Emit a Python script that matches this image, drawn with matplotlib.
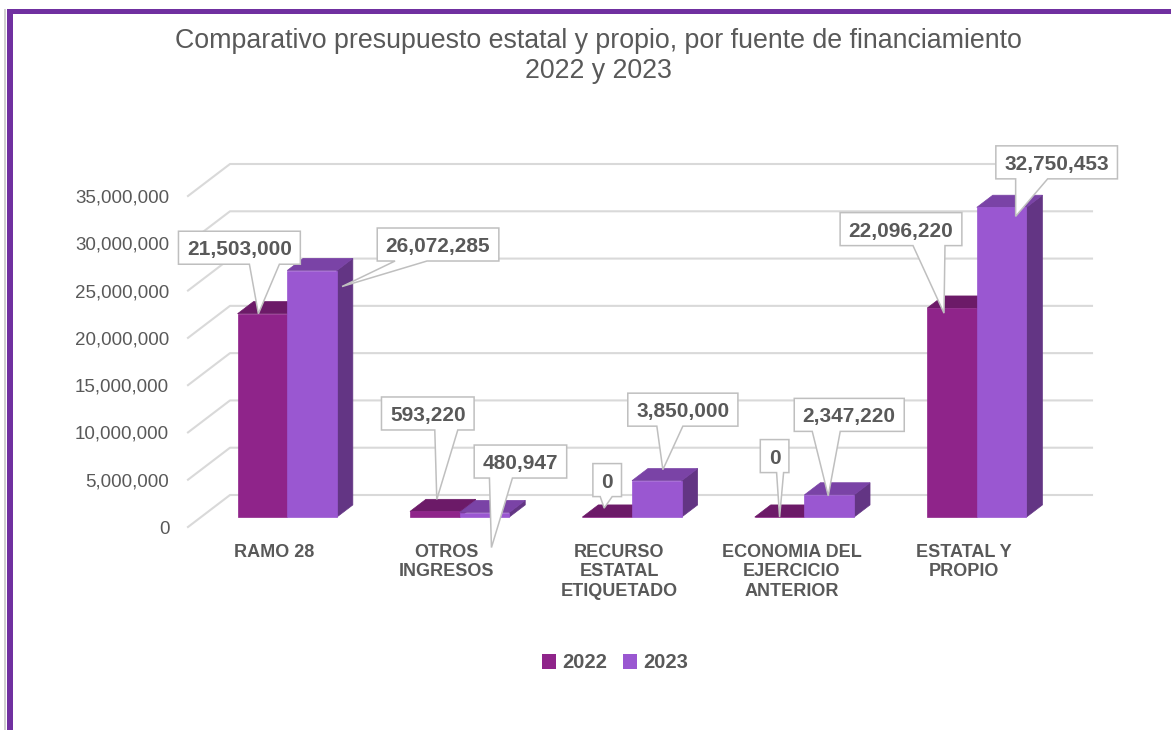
import numpy as np
import matplotlib.pyplot as plt
from matplotlib.patches import Polygon, Patch, Rectangle
from matplotlib.ticker import FuncFormatter

# datos
categorias = ["RAMO 28", "OTROS\nINGRESOS", "RECURSO\nESTATAL\nETIQUETADO",
              "ECONOMIA DEL\nEJERCICIO\nANTERIOR", "ESTATAL Y\nPROPIO"]
anios = ["2022", "2023"]
v2022 = [21503000, 593220, 0, 0, 22096220]
v2023 = [26072285, 480947, 3850000, 2347220, 32750453]
yticks = [0, 5000000, 10000000, 15000000, 20000000, 25000000, 30000000, 35000000]
titulo = "Comparativo presupuesto estatal y propio, por fuente de financiamiento\n2022 y 2023"

# colores (frente, tapa, lado)
col = {"2022": ("#8F248A", "#6C1A68", "#6C1A68"),
       "2023": ("#9A57D1", "#7A43A6", "#633584")}
gris = "#595959"
FUENTE = "Liberation Sans"

W, H = 1171, 730
fig = plt.figure(figsize=(W / 100, H / 100), dpi=100)
ax = fig.add_axes([188 / W, (H - 527) / H, 862 / W, 331 / H])
ax.set_xlim(-0.5, 4.5)
ax.set_ylim(0, 35e6)
for s in ax.spines.values():
    s.set_visible(False)

# profundidad del efecto 3D en pixeles -> unidades de datos
p0 = ax.transData.transform((0, 0))
p1 = ax.transData.transform((1, 1e6))
DX = 42 / (p1[0] - p0[0])
DY = 32 / (p1[1] - p0[1]) * 1e6

def P(x, v, d):
    return (x + d * DX, v + d * DY)

# lineas de cuadricula (piso lateral + pared del fondo)
for v in yticks:
    pts = [P(-0.5, v, 0), P(-0.5, v, 1), P(4.5, v, 1)]
    ax.plot([p[0] for p in pts], [p[1] for p in pts], color="#D9D9D9",
            lw=1.5, clip_on=False, zorder=1)

w = 0.288
d0, d1 = 0.31, 0.69
x = np.arange(len(categorias))
series = [("2022", v2022, -w / 2), ("2023", v2023, w / 2)]
for k, (nombre, vals, off) in enumerate(series):
    fr, tp, ld = col[nombre]
    z = 2 + k
    for i, v in enumerate(vals):
        xa, xb = i + off - w / 2, i + off + w / 2
        lado = [P(xb, 0, d0), P(xb, v, d0), P(xb, v, d1), P(xb, 0, d1)]
        tapa = [P(xa, v, d0), P(xb, v, d0), P(xb, v, d1), P(xa, v, d1)]
        ax.add_patch(Polygon(lado, closed=True, fc=ld, ec=ld, lw=0.5,
                             clip_on=False, zorder=z))
        ax.add_patch(Polygon(tapa, closed=True, fc=tp, ec=tp, lw=0.5,
                             clip_on=False, zorder=z + 0.1))
    ax.bar(x + off + d0 * DX, vals, width=w, bottom=d0 * DY, color=fr,
           edgecolor=fr, lw=0.5, zorder=z + 0.2, clip_on=False)

# etiquetas de datos tipo globo (todo en pixeles): punta, centro del cuadro, base del pico
punta = [[(-4, 0), (30, -16)], [(2, 12), (7, -35)], [(-3, 9), (6, 11)],
         [(0, 0), (-1, -1)], [(-8, -5), (14, -9)]]
caja = [[(-19, 66), (96, 42)], [(-9, 86), (29, 86)], [(3, 28), (20, 60)],
        [(-5, 61), (21, 81)], [(-43, 84), (41, 54)]]
base = [[(10, 40), (-43, -11)], [(7, 30), (-31, -8)], [(-7, 5), (-26, 0)],
        [(2, 9), (-37, -9)], [(12, 44), (-41, -9)]]
renderer = fig.canvas.get_renderer()
inv = ax.transData.inverted()
for k, (nombre, vals, off) in enumerate(series):
    for i, v in enumerate(vals):
        tip = ax.transData.transform(P(i + off, v, d0)) + np.array(punta[i][k])
        cx, cy = tip + np.array(caja[i][k])
        t = ax.text(*inv.transform((cx, cy - 7.5)), f"{v:,.0f}", ha="center",
                    va="baseline", fontsize=15, fontweight="bold", family=FUENTE,
                    color=gris, zorder=11, clip_on=False)
        hw = t.get_window_extent(renderer).width / 2 + 8.5
        hh = 16.5
        bl, br = base[i][k]
        verts = [(cx - hw, cy + hh), (cx + hw, cy + hh), (cx + hw, cy - hh),
                 (cx + br, cy - hh), tuple(tip), (cx + bl, cy - hh),
                 (cx - hw, cy - hh)]
        ax.add_patch(Polygon(inv.transform(verts), closed=True, fc="white",
                             ec="#BFBFBF", lw=1.1, clip_on=False, zorder=10))

# ejes
ax.set_yticks(yticks)
ax.yaxis.set_major_formatter(FuncFormatter(lambda v, p: f"{v:,.0f}"))
ax.set_xticks(x, categorias)
ax.tick_params(axis="y", length=0, pad=13.5, labelsize=13.5, labelcolor=gris)
ax.tick_params(axis="x", length=0, pad=12, labelsize=13, labelcolor=gris)
for t in ax.get_yticklabels():
    t.set_family(FUENTE)
for t in ax.get_xticklabels():
    t.set_family(FUENTE)
    t.set_fontweight("bold")

fig.text(598 / W, 1 - 56 / H, titulo, ha="center", va="center", fontsize=19.3,
         color=gris, family=FUENTE, linespacing=1.22)

handles = [Patch(fc=col[a][0], ec="none") for a in anios]
fig.legend(handles, anios, loc="center", bbox_to_anchor=(615 / W, 1 - 663 / H),
           ncol=2, frameon=False, handlelength=0.7, handleheight=0.7,
           handletextpad=0.3, columnspacing=0.8, labelcolor=gris,
           prop=dict(family=FUENTE, weight="bold", size=14.5))

# marco morado
fig.patches.append(Rectangle((7 / W, 1 - 14 / H), 1 - 7 / W, 5 / H,
                             transform=fig.transFigure, fc="#7030A0", ec="none"))
fig.patches.append(Rectangle((7 / W, 0), 6 / W, 1 - 9 / H,
                             transform=fig.transFigure, fc="#7030A0", ec="none"))
fig.patches.append(Rectangle((4 / W, 0), 1.5 / W, 1 - 9 / H,
                             transform=fig.transFigure, fc="#D0D0D0", ec="none"))

fig.savefig("out.png", dpi=100)
